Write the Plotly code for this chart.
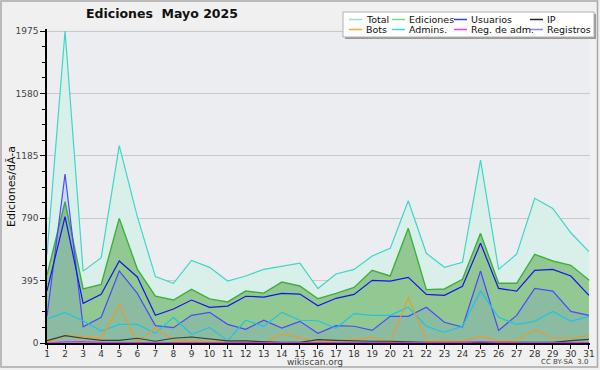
import plotly.graph_objects as go

days = list(range(1, 32))
total = [560, 1975, 455, 540, 1250, 800, 420, 378, 523, 479, 392, 424, 466, 485, 506, 345,
         437, 466, 551, 599, 901, 568, 479, 511, 1158, 466, 563, 916, 852, 698, 578]
ediciones = [430, 894, 342, 371, 789, 468, 297, 272, 340, 279, 260, 329, 316, 386, 361, 280,
             314, 352, 460, 424, 726, 338, 342, 403, 694, 378, 378, 561, 519, 492, 399]
usuarios = [330, 800, 251, 308, 519, 418, 175, 215, 272, 226, 234, 296, 291, 314, 310, 236,
            283, 308, 397, 392, 416, 308, 302, 359, 631, 346, 329, 460, 466, 424, 302]
ip = [15, 46, 30, 17, 17, 30, 11, 30, 38, 25, 13, 13, 8, 4, 4, 21,
      17, 13, 11, 11, 6, 4, 4, 4, 8, 8, 8, 4, 4, 15, 23]
bots = [5, 46, 40, 30, 240, 4, 97, 15, 17, 8, 8, 4, 0, 57, 34, 6,
        13, 23, 38, 4, 289, 13, 19, 13, 44, 13, 19, 82, 30, 30, 49]
admins = [152, 194, 141, 76, 118, 118, 61, 163, 55, 99, 15, 144, 106, 194, 144, 141,
          93, 186, 175, 175, 226, 106, 68, 106, 329, 163, 118, 137, 200, 137, 169]
reg_adm = [0, 7, 9, 3, 2, 2, 1, 3, 2, 2, 2, 2, 1, 2, 2, 1,
           1, 2, 2, 1, 2, 1, 1, 2, 9, 2, 2, 1, 1, 2, 2]
registros = [170, 1070, 103, 163, 456, 314, 110, 97, 175, 194, 118, 87, 144, 95, 137, 61,
             110, 106, 80, 169, 169, 226, 131, 101, 456, 80, 175, 346, 329, 200, 175]

y_ticks = [0, 395, 790, 1185, 1580, 1975]

FONT = "DejaVu Sans"

fig = go.Figure()

def line(name, y, color, width=1.2, fill=None, fillcolor=None):
    kw = dict(x=days, y=y, mode="lines", name=name,
              line=dict(color=color, width=width), showlegend=False,
              hoverinfo="x+y")
    if fill:
        kw.update(fill=fill, fillcolor=fillcolor)
    fig.add_trace(go.Scatter(**kw))

line("Total", total, "#3fd6c6", fill="tozeroy", fillcolor="#d8f0e9")
line("Ediciones", ediciones, "#3fae3f", width=1.4, fill="tozeroy", fillcolor="#92c993")
line("Registros", registros, "#4a4aff", fill="tozeroy", fillcolor="rgba(90,90,255,0.13)")
line("Usuarios", usuarios, "#1515e8")
line("Admins.", admins, "#22c4e0")
line("Bots", bots, "#ec9a2c")
line("IP", ip, "#3a3a3a")
line("Reg. de adm.", reg_adm, "#d62ef0")

L, R, T, B = 47, 10, 29, 27
W, H = 600, 370
pw, ph = W - L - R, H - T - B

def px(x):
    return (x - L) / pw

def py(y):
    return (H - B - y) / ph

shapes = []
annotations = []

# page border
shapes.append(dict(type="rect", xref="paper", yref="paper",
                   x0=px(1), x1=px(597.5), y0=py(1), y1=py(367),
                   line=dict(color="#a8a8a8", width=1.5), fillcolor="rgba(0,0,0,0)", layer="below"))

# legend box (shadow + box)
shapes.append(dict(type="rect", xref="paper", yref="paper",
                   x0=px(345), x1=px(596), y0=py(14), y1=py(39),
                   line=dict(width=0), fillcolor="#9a9a9a"))
shapes.append(dict(type="rect", xref="paper", yref="paper",
                   x0=px(343), x1=px(594), y0=py(12), y1=py(37),
                   line=dict(color="#b0b0b0", width=1), fillcolor="white"))

legend_items = [
    ("Total", "#8fe3dc", 349, 19.5), ("Ediciones", "#86d286", 392, 19.5),
    ("Usuarios", "#3a3aff", 454, 19.5), ("IP", "#222222", 530, 19.5),
    ("Bots", "#ffa52a", 349, 29.5), ("Admins.", "#34d6ea", 392, 29.5),
    ("Reg. de adm.", "#e23cf2", 454, 29.5), ("Registros", "#8484ff", 530, 29.5),
]
for name, color, x0, y0 in legend_items:
    shapes.append(dict(type="line", xref="paper", yref="paper",
                       x0=px(x0), x1=px(x0 + 13), y0=py(y0), y1=py(y0),
                       line=dict(color=color, width=1.5)))
    annotations.append(dict(text=name, xref="paper", yref="paper",
                            x=px(x0 + 14.5), y=py(y0), xanchor="left", yanchor="middle",
                            showarrow=False, font=dict(family=FONT, size=9.5, color="#111")))

annotations.append(dict(text="<b>Ediciones  Mayo 2025</b>", xref="paper", yref="paper",
                        x=px(84), y=py(14), xanchor="left", yanchor="middle",
                        showarrow=False, font=dict(family=FONT, size=12.5, color="#111")))
annotations.append(dict(text="wikiscan.org", xref="paper", yref="paper",
                        x=px(315), y=py(361.5), xanchor="center", yanchor="middle",
                        showarrow=False, font=dict(family=FONT, size=9, color="#444")))
annotations.append(dict(text="CC BY-SA  3.0", xref="paper", yref="paper",
                        x=px(590), y=py(362), xanchor="right", yanchor="middle",
                        showarrow=False, font=dict(family=FONT, size=7, color="#444")))
annotations.append(dict(text="Ediciones/dÃ-a", xref="paper", yref="paper",
                        x=px(11), y=py(187), xanchor="center", yanchor="middle", textangle=-90,
                        showarrow=False, font=dict(family=FONT, size=11, color="#111")))

fig.update_layout(
    width=W, height=H,
    margin=dict(l=L, r=R, t=T, b=B, autoexpand=False),
    paper_bgcolor="#f0f0f0",
    plot_bgcolor="#ecedf0",
    font=dict(family=FONT, size=9, color="#333"),
    shapes=shapes,
    annotations=annotations,
    showlegend=False,
    xaxis=dict(range=[1, 31.06], tickmode="array", tickvals=days,
               ticktext=[str(d) for d in days], automargin=False,
               showgrid=False, zeroline=False, showline=True, linecolor="black", linewidth=1.5,
               ticks="outside", ticklen=4, tickcolor="black", ticklabelstandoff=-3,
               tickfont=dict(family=FONT, size=9, color="#333")),
    yaxis=dict(range=[0, 1988], tickmode="array", tickvals=y_ticks,
               ticktext=[str(v) for v in y_ticks], automargin=False,
               showgrid=True, gridcolor="#c9c9c9", gridwidth=1, zeroline=False,
               showline=True, linecolor="black", linewidth=1.5,
               ticks="outside", ticklen=5, tickcolor="black",
               minor=dict(dtick=98.75, tick0=0, ticks="outside", ticklen=3,
                          tickcolor="black", showgrid=False),
               tickfont=dict(family=FONT, size=9, color="#444")),
)

fig.write_html("out.html", config={"displayModeBar": False, "responsive": False},
               post_script="document.body.style.margin='0';document.body.style.overflow='hidden';")
